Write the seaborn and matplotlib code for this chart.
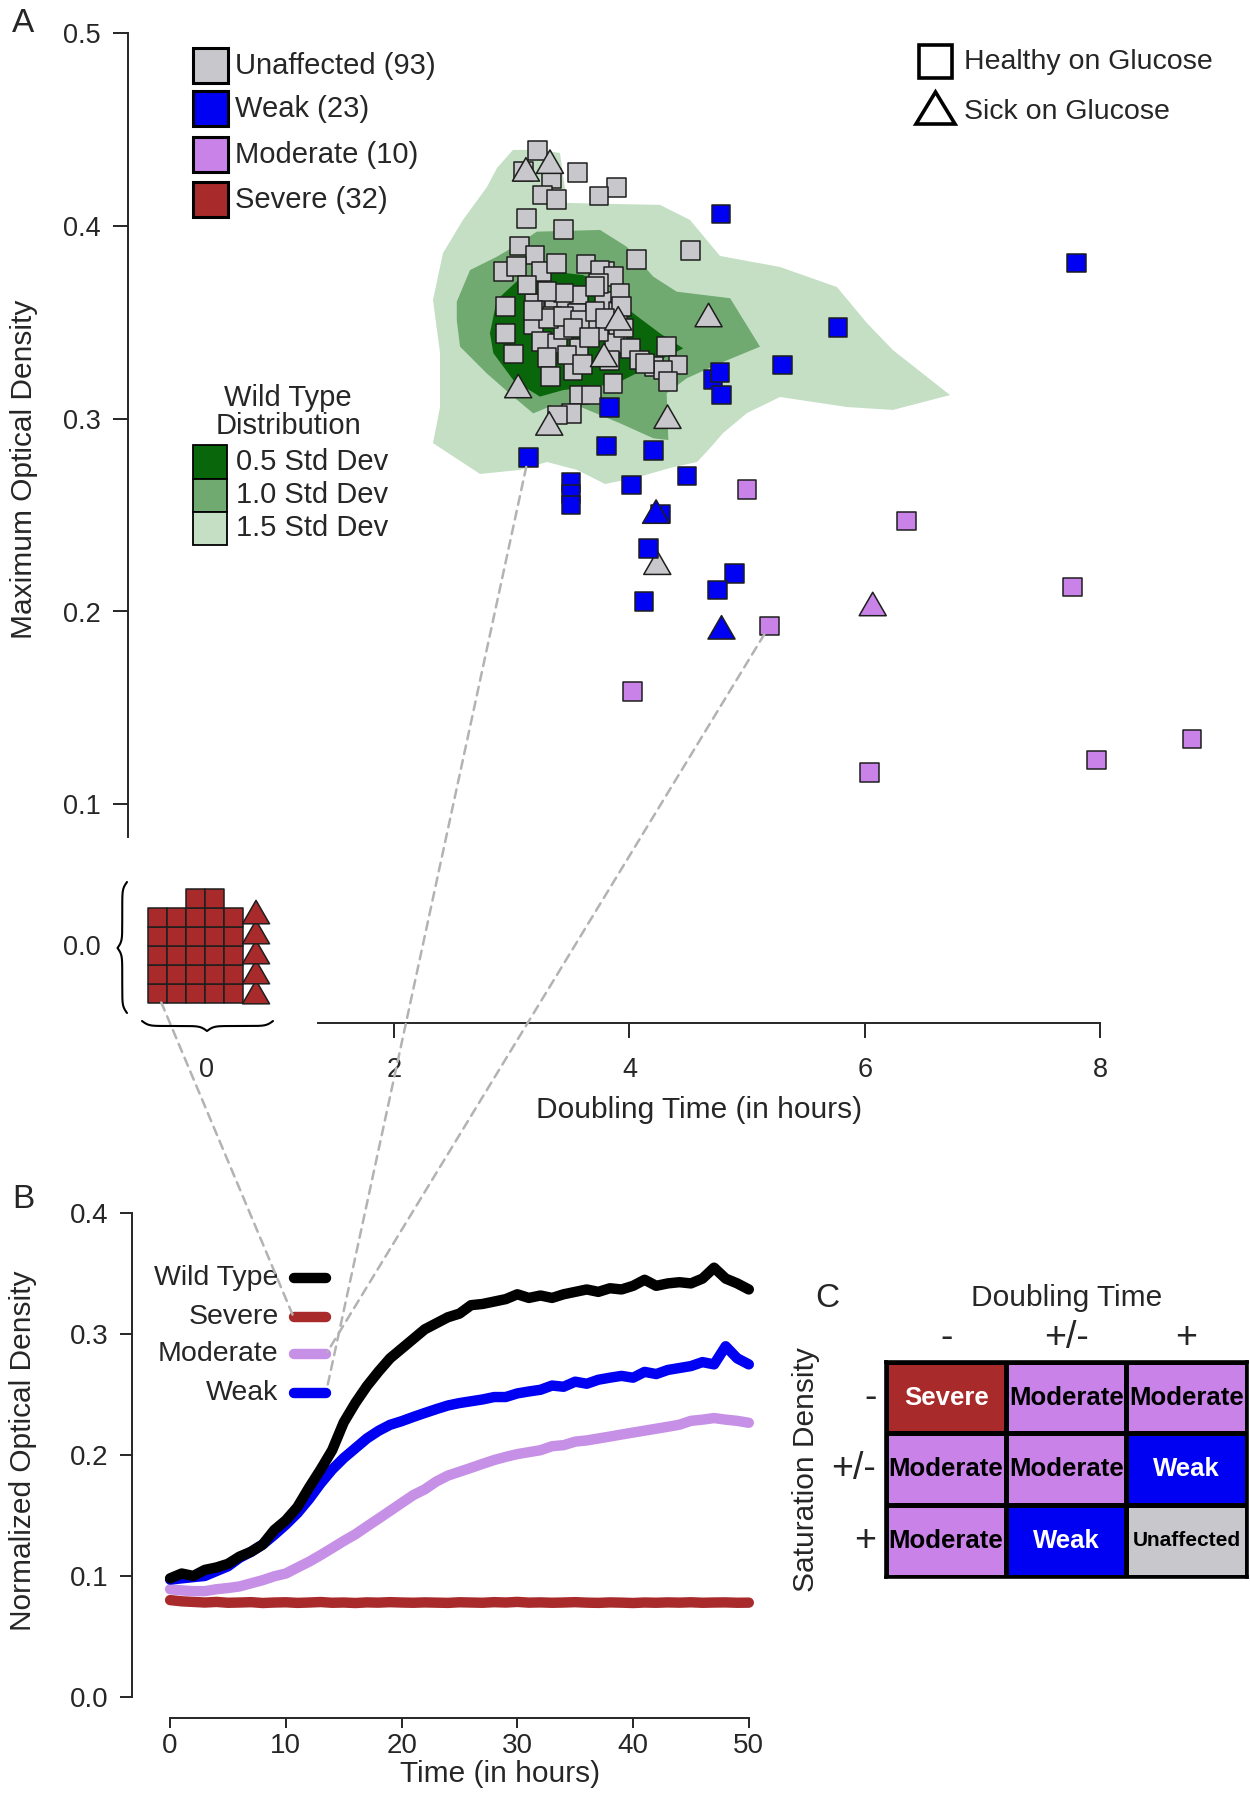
import numpy as np
import pandas as pd
import matplotlib
matplotlib.use("Agg")
import matplotlib.pyplot as plt
import seaborn as sns
from matplotlib.markers import MarkerStyle
from matplotlib.path import Path
from matplotlib.patches import ConnectionPatch, Rectangle, Polygon
from matplotlib.lines import Line2D
from matplotlib.colors import ListedColormap

# ======================= DATA =======================
# ---- Panel A: doubling time (h) vs maximum optical density ----
unaffected_sq_dt = [3.218, 3.099, 3.340, 3.558, 3.263, 3.382, 3.892, 3.742, 3.127, 3.439, 3.065, 4.521, 4.062, 3.631,
                    3.198, 2.929, 3.042, 3.255, 3.382, 3.793, 3.750, 3.864,
                    2.949, 3.192, 3.131, 3.359, 3.465, 3.571, 3.784, 3.905, 3.920, 3.738,
                    3.556, 3.344, 2.949, 3.186, 3.252, 3.389, 3.571, 3.799, 3.905, 3.875,
                    4.011, 3.016, 3.298, 3.520, 3.328, 3.859, 3.571, 3.677, 3.510, 3.389,
                    4.087, 4.208, 4.315, 4.412, 4.284, 4.330, 4.133, 3.738, 3.647, 3.435,
                    3.438, 3.708, 3.935, 3.311, 3.438, 3.580, 3.708, 3.793,
                    3.300, 3.520, 3.660, 3.470, 3.950, 3.180, 3.830, 3.600]
unaffected_sq_od = [0.4389, 0.4280, 0.4246, 0.4277, 0.4159, 0.4137, 0.4199, 0.4154, 0.4038, 0.3981, 0.3895, 0.3871, 0.3826, 0.3801,
                    0.3848, 0.3762, 0.3788, 0.3762, 0.3805, 0.3762, 0.3770, 0.3736,
                    0.3580, 0.3598, 0.3693, 0.3615, 0.3598, 0.3641, 0.3606, 0.3554, 0.3649, 0.3701,
                    0.3546, 0.3528, 0.3442, 0.3485, 0.3399, 0.3390, 0.3364, 0.3511, 0.3442, 0.3390,
                    0.3364, 0.3335, 0.3318, 0.3249, 0.3217, 0.3183, 0.3122, 0.3122, 0.3027, 0.3019,
                    0.3304, 0.3269, 0.3373, 0.3278, 0.3252, 0.3191, 0.3287, 0.3451, 0.3494, 0.3459,
                    0.3650, 0.3684, 0.3580, 0.3520, 0.3528, 0.3511, 0.3554, 0.3520,
                    0.3660, 0.3470, 0.3420, 0.3330, 0.3470, 0.3560, 0.3300, 0.3280]
unaffected_tri_dt = [3.325, 3.121, 4.673, 3.784, 3.055, 3.319, 4.324, 4.237, 3.905]
unaffected_tri_od = [0.4332, 0.4292, 0.3537, 0.3330, 0.3169, 0.2975, 0.3010, 0.2253, 0.3520]

weak_sq_dt = [4.779, 7.798, 5.772, 5.301, 4.709, 4.770, 4.785, 3.829, 3.804, 4.204, 3.141,
              4.491, 4.016, 3.505, 3.505, 3.505, 4.263, 4.162, 4.894, 4.747, 4.123]
weak_sq_od = [0.4061, 0.3806, 0.3471, 0.3278, 0.3204, 0.3238, 0.3122, 0.3057, 0.2858, 0.2834, 0.2799,
              0.2702, 0.2656, 0.2668, 0.2610, 0.2552, 0.2505, 0.2327, 0.2198, 0.2111, 0.2051]
weak_tri_dt = [4.227, 4.783]
weak_tri_od = [0.2518, 0.1918]

moderate_sq_dt = [5.001, 6.357, 5.190, 4.027, 6.039, 7.971, 8.781, 7.765]
moderate_sq_od = [0.2633, 0.2469, 0.1925, 0.1584, 0.1166, 0.1230, 0.1339, 0.2126]
moderate_tri_dt = [6.068]
moderate_tri_od = [0.2039]

severe_sq_n = 27      # no growth: shown stacked at "0"
severe_tri_n = 5

group_labels = ["Unaffected (93)", "Weak (23)", "Moderate (10)", "Severe (32)"]

# Wild type distribution outlines (doubling time, OD)
wt15_dt = [2.875, 3.011, 3.240, 3.410, 3.436, 3.470, 3.835, 4.260, 4.515, 4.770, 5.280, 5.764, 6.019, 6.240,
           6.725, 6.240, 5.849, 5.280, 5.000, 4.796, 4.694, 4.575, 4.345, 4.048, 3.793, 3.555, 3.300, 3.071,
           2.731, 2.331, 2.391, 2.391, 2.331, 2.416, 2.586, 2.790]
wt15_od = [0.4299, 0.4393, 0.4393, 0.4377, 0.4263, 0.4118, 0.4113, 0.4108, 0.4030, 0.3843, 0.3786, 0.3682, 0.3495, 0.3355,
           0.3122, 0.3045, 0.3060, 0.3112, 0.3029, 0.2925, 0.2853, 0.2775, 0.2744, 0.2692, 0.2661, 0.2734, 0.2775, 0.2734,
           0.2713, 0.2873, 0.3060, 0.3340, 0.3615, 0.3858, 0.4030, 0.4201]
wt10_dt = [2.533, 2.646, 2.873, 3.070, 3.212, 3.751, 3.977, 4.203, 4.402, 4.856, 5.110, 4.770, 4.487, 4.317,
           4.331, 4.203, 3.920, 3.580, 3.353, 3.183, 3.013, 2.787, 2.561, 2.533]
wt10_od = [0.3606, 0.3770, 0.3839, 0.3909, 0.3969, 0.3978, 0.3891, 0.3736, 0.3658, 0.3624, 0.3373, 0.3287, 0.3209, 0.3131,
           0.2889, 0.2898, 0.2976, 0.3062, 0.3070, 0.3027, 0.3114, 0.3235, 0.3373, 0.3511]
wt05_dt = [2.815, 2.873, 3.070, 3.353, 3.608, 3.807, 4.033, 4.260, 4.458, 4.260, 4.062, 3.892, 3.693, 3.438,
           3.240, 3.013, 2.844]
wt05_od = [0.3442, 0.3615, 0.3727, 0.3762, 0.3744, 0.3667, 0.3546, 0.3442, 0.3364, 0.3304, 0.3235, 0.3183, 0.3165, 0.3148,
           0.3114, 0.3200, 0.3339]
wt_labels = ["0.5 Std Dev", "1.0 Std Dev", "1.5 Std Dev"]

# ---- Panel B: growth curves ----
time_h = list(range(0, 51))
od_wild = [0.098, 0.102, 0.100, 0.105, 0.107, 0.110, 0.116, 0.120, 0.126, 0.138,
           0.146, 0.157, 0.173, 0.188, 0.204, 0.227, 0.243, 0.257, 0.269, 0.280,
           0.288, 0.296, 0.304, 0.309, 0.314, 0.317, 0.324, 0.325, 0.327, 0.329,
           0.333, 0.330, 0.332, 0.330, 0.333, 0.335, 0.337, 0.335, 0.338, 0.337,
           0.340, 0.345, 0.340, 0.342, 0.343, 0.342, 0.346, 0.355, 0.346, 0.342, 0.337]
od_weak = [0.097, 0.098, 0.099, 0.100, 0.104, 0.108, 0.115, 0.120, 0.126, 0.134,
           0.1425, 0.152, 0.1635, 0.1765, 0.188, 0.1975, 0.2056, 0.2137, 0.220, 0.225,
           0.228, 0.2315, 0.2348, 0.238, 0.241, 0.243, 0.2445, 0.246, 0.248, 0.248,
           0.251, 0.2526, 0.254, 0.2575, 0.2565, 0.2607, 0.259, 0.2623, 0.264, 0.2655,
           0.264, 0.2688, 0.267, 0.2704, 0.272, 0.2736, 0.2769, 0.275, 0.290, 0.280, 0.275]
od_moderate = [0.089, 0.088, 0.0874, 0.0874, 0.089, 0.090, 0.0913, 0.0939, 0.0965, 0.0997,
               0.102, 0.1069, 0.1117, 0.1172, 0.123, 0.1289, 0.1344, 0.1409, 0.1473, 0.1538,
               0.1603, 0.1668, 0.1716, 0.1781, 0.183, 0.1862, 0.1894, 0.1927, 0.1959, 0.1985,
               0.2008, 0.2024, 0.204, 0.2073, 0.2082, 0.2111, 0.2121, 0.2137, 0.2153, 0.217,
               0.2186, 0.2202, 0.2218, 0.2234, 0.2251, 0.2283, 0.2293, 0.2306, 0.2293, 0.2283, 0.2267]
od_severe = [0.0800, 0.0790, 0.0785, 0.0780, 0.0785, 0.0778, 0.0780, 0.0783, 0.0776, 0.0780,
             0.0782, 0.0777, 0.0780, 0.0784, 0.0778, 0.0780, 0.0776, 0.0781, 0.0779, 0.0783,
             0.0780, 0.0778, 0.0781, 0.0779, 0.0777, 0.0782, 0.0780, 0.0778, 0.0783, 0.0780,
             0.0785, 0.0779, 0.0781, 0.0778, 0.0780, 0.0783, 0.0779, 0.0777, 0.0781, 0.0779,
             0.0776, 0.0780, 0.0778, 0.0781, 0.0779, 0.0782, 0.0778, 0.0780, 0.0781, 0.0778, 0.0779]
curve_labels = ["Wild Type", "Severe", "Moderate", "Weak"]

# ---- Panel C: classification table ----
dt_levels = ["-", "+/-", "+"]
sd_levels = ["-", "+/-", "+"]
class_table = [["Severe", "Moderate", "Moderate"],
               ["Moderate", "Moderate", "Weak"],
               ["Moderate", "Weak", "Unaffected"]]

# ======================= STYLE =======================
C_UNAFF = "#c8c8cc"
C_WEAK = "#0000f2"
C_MOD = "#c882e8"
C_SEV = "#a82a2a"
C_MOD_LINE = "#c690e6"
C_G05, C_G10, C_G15 = "#0a660a", "#70aa70", "#c4dfc4"
EDGE = "#1e1e1e"

sns.set_theme(style="ticks")
plt.rcParams["font.family"] = ["Liberation Sans", "DejaVu Sans"]
plt.rcParams["axes.linewidth"] = 1.4

W, H = 1250, 1794
fig = plt.figure(figsize=(W / 100, H / 100), dpi=100)


def F(px, py):
    return px / W, 1 - py / H


# ======================= PANEL A =======================
axA = fig.add_axes([128 / W, 1 - 1022.7 / H, 1 - 128 / W, (1022.7 - 20) / H])
axA.set_xlim((128 - 158.7) / 117.67, (W - 158.7) / 117.67)
axA.set_ylim((997.3 - 1022.7) / 1929, (997.3 - 20) / 1929)

for xs, ys, col in [(wt15_dt, wt15_od, C_G15), (wt10_dt, wt10_od, C_G10), (wt05_dt, wt05_od, C_G05)]:
    axA.fill(xs, ys, color=col, lw=0, zorder=1)

# severe pile layout (no growth)
sev_cols = [i % 5 if i < 25 else 2 + (i - 25) for i in range(severe_sq_n)]
sev_rows = [i // 5 if i < 25 else 5 for i in range(severe_sq_n)]
sev_sq_x = [-0.010 + c * 0.1615 for c in sev_cols]
sev_sq_y = [0.00197 + r * 0.00985 for r in sev_rows]
sev_tri_x = [0.827] * severe_tri_n
sev_tri_y = [0.0027 + j * 0.01037 for j in range(severe_tri_n)]

rows = []
def add(xs, ys, grp, shape):
    for x, y in zip(xs, ys):
        rows.append(dict(dt=x, od=y, group=grp, shape=shape))

add(unaffected_sq_dt, unaffected_sq_od, "Unaffected", "Healthy")
add(unaffected_tri_dt, unaffected_tri_od, "Unaffected", "Sick")
add(weak_sq_dt, weak_sq_od, "Weak", "Healthy")
add(weak_tri_dt, weak_tri_od, "Weak", "Sick")
add(moderate_sq_dt, moderate_sq_od, "Moderate", "Healthy")
add(moderate_tri_dt, moderate_tri_od, "Moderate", "Sick")
add(sev_sq_x, sev_sq_y, "Severe", "Healthy")
add(sev_tri_x, sev_tri_y, "Severe", "Sick")
dfA = pd.DataFrame(rows)

tri_path = Path([(-0.5, -0.433), (0.5, -0.433), (0.0, 0.433), (-0.5, -0.433)],
                [Path.MOVETO, Path.LINETO, Path.LINETO, Path.CLOSEPOLY])
tri_marker = MarkerStyle(tri_path)

sns.scatterplot(data=dfA, x="dt", y="od", hue="group", style="shape", size="shape",
                palette={"Unaffected": C_UNAFF, "Weak": C_WEAK, "Moderate": C_MOD, "Severe": C_SEV},
                markers={"Healthy": "s", "Sick": tri_marker},
                sizes={"Healthy": 178, "Sick": 380},
                edgecolor=EDGE, linewidth=1.1, legend=False, ax=axA, zorder=3, clip_on=False)

sns.despine(ax=axA)
axA.spines["left"].set_bounds(0.0829, 0.5)
axA.spines["bottom"].set_bounds(1.356, 8.0)
axA.set_xticks([0.41, 2, 4, 6, 8], ["0", "2", "4", "6", "8"])
axA.set_yticks([0.0271, 0.1, 0.2, 0.3, 0.4, 0.5], ["0.0", "0.1", "0.2", "0.3", "0.4", "0.5"])
axA.xaxis.get_major_ticks()[0].tick1line.set_visible(False)
axA.yaxis.get_major_ticks()[0].tick1line.set_visible(False)
axA.tick_params(axis="x", length=10.8, width=1.4, labelsize=19.5, pad=14)
axA.tick_params(axis="y", length=10.8, width=1.4, labelsize=19.5, pad=9)
axA.set_xlabel("Doubling Time (in hours)", fontsize=21.5)
axA.set_ylabel("Maximum Optical Density", fontsize=21.5)
axA.xaxis.set_label_coords(0.509, -0.073)
axA.yaxis.set_label_coords(-0.0802, 0.5522)


def brace(a0, a1, tip, k=0.3, n=300):
    s1 = np.linspace(a0, tip, n)
    s2 = np.linspace(tip, a1, n)
    o1 = 1 / (1 + np.exp(-k * (s1 - a0))) + 1 / (1 + np.exp(-k * (s1 - tip))) - 0.5
    o2 = 1 / (1 + np.exp(k * (s2 - a1))) + 1 / (1 + np.exp(k * (s2 - tip))) - 0.5
    return np.concatenate([s1, s2]), np.concatenate([o1, o2])

# left brace (vertical, pointing left)
s, o = brace(882, 1013, 948)
px = 127 - o * 9.5
fx, fy = F(px, s)
fig.add_artist(Line2D(fx, fy, transform=fig.transFigure, color="black", lw=1.5))
# bottom brace (horizontal, pointing down)
s, o = brace(142, 273, 207)
py = 1021 + o * 10
fx, fy = F(s, py)
fig.add_artist(Line2D(fx, fy, transform=fig.transFigure, color="black", lw=1.5))

# legend: categories
for (ycen, col, lab) in zip([66, 109, 155, 200], [C_UNAFF, C_WEAK, C_MOD, C_SEV], group_labels):
    x0, y0 = F(192.5, ycen + 17.5)
    fig.add_artist(Rectangle((x0, y0), 35 / W, 35 / H, transform=fig.transFigure,
                             facecolor=col, edgecolor="black", lw=2.2))
    fig.text(*F(235, ycen), lab, ha="left", va="center", fontsize=21)

# legend: shapes
x0, y0 = F(919, 78.5)
fig.add_artist(Rectangle((x0, y0), 33 / W, 33 / H, transform=fig.transFigure,
                         facecolor="white", edgecolor="black", lw=2.6))
fig.add_artist(Polygon([F(916, 124), F(955, 124), F(935.5, 92)], closed=True, transform=fig.transFigure,
                       facecolor="white", edgecolor="black", lw=2.6))
fig.text(*F(964, 62), "Healthy on Glucose", ha="left", va="center", fontsize=20.5)
fig.text(*F(964, 112), "Sick on Glucose", ha="left", va="center", fontsize=20.5)

# legend: wild type distribution
fig.text(*F(288, 397.6), "Wild Type", ha="center", va="center", fontsize=21)
fig.text(*F(288, 426.3), "Distribution", ha="center", va="center", fontsize=21)
for (ya, yb, col, lab) in zip([444.7, 478.7, 511.6], [478.7, 511.6, 545], [C_G05, C_G10, C_G15], wt_labels):
    x0, y0 = F(193, yb)
    fig.add_artist(Rectangle((x0, y0), 34 / W, (yb - ya) / H, transform=fig.transFigure,
                             facecolor=col, edgecolor="black", lw=1.3))
    fig.text(*F(236, (ya + yb) / 2), lab, ha="left", va="center", fontsize=21)

# ======================= PANEL B =======================
axB = fig.add_axes([131.8 / W, 1 - 1718.4 / H, (748.8 - 131.8) / W, (1718.4 - 1213.3) / H])
axB.set_facecolor("none")
dfB = pd.DataFrame({
    "time": time_h * 4,
    "od": od_severe + od_moderate + od_weak + od_wild,
    "strain": ["Severe"] * 51 + ["Moderate"] * 51 + ["Weak"] * 51 + ["Wild Type"] * 51,
})
line_pal = {"Wild Type": "black", "Severe": C_SEV, "Moderate": C_MOD_LINE, "Weak": C_WEAK}
sns.lineplot(data=dfB, x="time", y="od", hue="strain", hue_order=["Severe", "Moderate", "Weak", "Wild Type"],
             palette=line_pal, linewidth=7.5, solid_capstyle="round", solid_joinstyle="round",
             errorbar=None, legend=False, ax=axB)
for ln in axB.lines:
    ln.set_clip_on(False)
axB.set_xlim((131.8 - 170.1) / 11.57, 50)
axB.set_ylim((1696.8 - 1718.4) / 1209, 0.4)
sns.despine(ax=axB)
axB.spines["left"].set_bounds(0, 0.4)
axB.spines["bottom"].set_bounds(0, 50)
axB.set_xticks([0, 10, 20, 30, 40, 50])
axB.set_yticks([0.0, 0.1, 0.2, 0.3, 0.4], ["0.0", "0.1", "0.2", "0.3", "0.4"])
axB.tick_params(axis="x", length=7.5, width=1.4, labelsize=20, pad=3)
axB.tick_params(axis="y", length=9, width=1.4, labelsize=20, pad=8)
axB.set_xlabel("Time (in hours)", fontsize=21.5)
axB.set_ylabel("Normalized Optical Density", fontsize=21.5)
axB.xaxis.set_label_coords(0.597, -0.0814)
axB.yaxis.set_label_coords(-0.1536, 0.529)

leg_y = [0.3465, 0.3141, 0.2835, 0.2516]
for lab, y in zip(curve_labels, leg_y):
    axB.plot([10.67, 13.47], [y, y], color=line_pal[lab], lw=7.5, solid_capstyle="round", clip_on=False)
    axB.text(9.38, y, lab, ha="right", va="center", fontsize=20.5)

# connectors from panel A examples to panel B legend
dash = dict(color="#b3b3b3", lw=1.8, linestyle=(0, (3.5, 2.5)))
conns = [((sev_sq_x[0], sev_sq_y[0]), (10.67, leg_y[1]), 7),
         ((weak_sq_dt[10], weak_sq_od[10]), (13.47, leg_y[3]), 7),
         ((moderate_sq_dt[2], moderate_sq_od[2]), (13.47, leg_y[2]), 7)]
for a, b, sh in conns:
    cp = ConnectionPatch(xyA=a, coordsA=axA.transData, xyB=b, coordsB=axB.transData,
                         arrowstyle="-", shrinkA=sh, shrinkB=2, **dash)
    fig.add_artist(cp)

# ======================= PANEL C =======================
axC = fig.add_axes([886 / W, 1 - 1576.7 / H, 360.7 / W, 215 / H])
code_map = {"Unaffected": 0, "Weak": 1, "Moderate": 2, "Severe": 3}
codes = np.array([[code_map[c] for c in r] for r in class_table])
sns.heatmap(codes, ax=axC, cmap=ListedColormap([C_UNAFF, C_WEAK, C_MOD, C_SEV]), vmin=-0.5, vmax=3.5,
            cbar=False, annot=np.array(class_table), fmt="", linewidths=2.2, linecolor="black",
            annot_kws=dict(fontsize=18.5, fontweight="bold"),
            xticklabels=dt_levels, yticklabels=sd_levels)
for t in axC.texts:
    txt = t.get_text()
    t.set_color("white" if txt in ("Severe", "Weak") else "black")
    if txt == "Unaffected":
        t.set_fontsize(15)
for sp in axC.spines.values():
    sp.set_visible(True)
    sp.set_linewidth(2.6)
    sp.set_color("black")
axC.xaxis.tick_top()
axC.xaxis.set_label_position("top")
axC.tick_params(axis="both", length=0, labelsize=27)
axC.tick_params(axis="x", pad=4)
axC.tick_params(axis="y", pad=7, labelrotation=0)
axC.set_xlabel("Doubling Time", fontsize=21.5, labelpad=10)
axC.set_ylabel("Saturation Density", fontsize=21.5)
axC.yaxis.set_label_coords(-0.183, 0.5)

# panel letters
fig.text(*F(23, 23), "A", ha="center", va="center", fontsize=24)
fig.text(*F(23, 1199), "B", ha="center", va="center", fontsize=24)
fig.text(*F(827, 1298), "C", ha="center", va="center", fontsize=24)

fig.savefig("out.png", dpi=100)
